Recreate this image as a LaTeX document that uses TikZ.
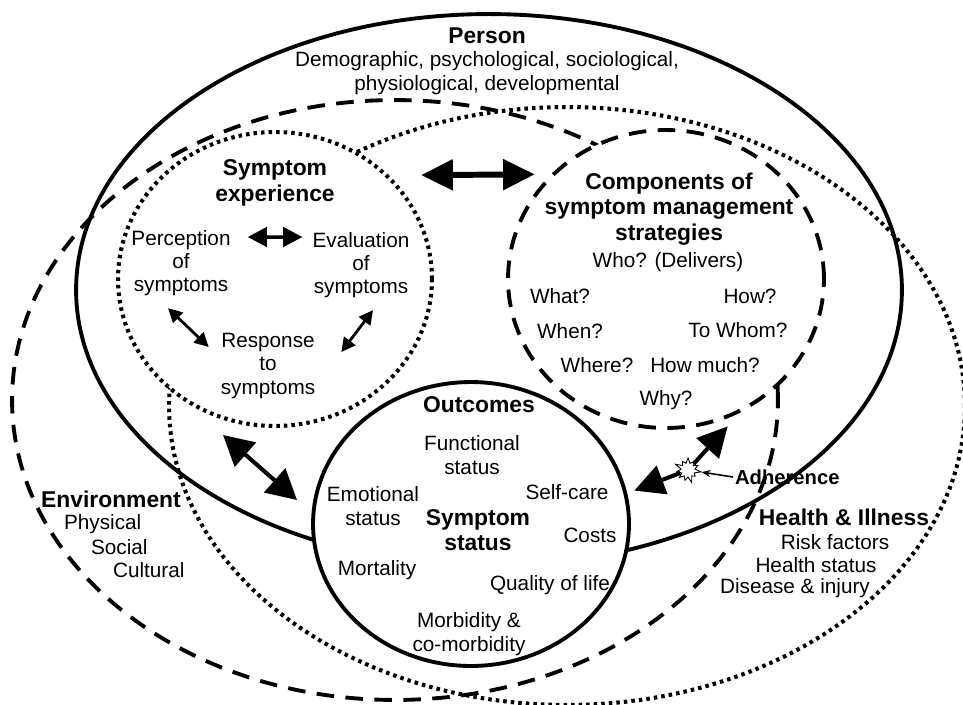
\documentclass[tikz,border=0pt]{standalone}
\usepackage{fontspec}
\setmainfont{Liberation Sans}
\usetikzlibrary{positioning}
\usetikzlibrary{arrows.meta}
\usetikzlibrary{shapes.geometric}
\usetikzlibrary{shapes.symbols}
\tikzset{
    symptom model/.style={
            x=0.02cm,y=-0.02cm,
            ring/.style={ellipse,draw,inner sep=0pt,outer sep=0pt},
            solidline/.style={line width=2.2pt},
            dashline/.style={line width=2.2pt,dash pattern=on 10pt off 6.5pt},
            dotline/.style={line width=2.3pt,dash pattern=on 2pt off 2.3pt},
            body/.style={font=\fontsize{11.8}{13.3}\selectfont,align=center,inner sep=1pt},
            title/.style={font=\bfseries\fontsize{13}{14.6}\selectfont,align=center,inner sep=1pt},
            burst/.style={starburst,draw,fill=white,line width=0.5pt,minimum size=0.56cm,
                    starburst points=11,starburst point height=0.14cm,inner sep=0pt},
            bigarrow/.style={{Triangle[length=18pt,width=17pt]}-{Triangle[length=18pt,width=17pt]},line width=3.4pt},
            diagarrow/.style={{Triangle[length=17pt,width=18pt]}-{Triangle[length=17pt,width=18pt]},line width=2.3pt},
            adharrow/.style={-{Triangle[length=17pt,width=17pt]},line width=2.3pt},
            midarrow/.style={{Triangle[length=11pt,width=11pt]}-{Triangle[length=11pt,width=11pt]},line width=2pt},
            smallarrow/.style={{Triangle[length=8pt,width=8pt]}-{Triangle[length=8pt,width=8pt]},line width=1.6pt}
        }
    }

\begin{document}
\begin{tikzpicture}[symptom model]
    \useasboundingbox (0,0) rectangle (963,704);

    % outer domains
    \node [ring, solidline, minimum width=16.52cm, minimum height=11.04cm] (person) at (489,290) {};
    \node [ring, dashline, minimum width=15.32cm, minimum height=12cm] (env) at (395,400) {};
    \node [ring, dotline, minimum width=15.92cm, minimum height=11.96cm] (health) at (567,406) {};

    % the three concepts
    \node [ring, dotline, fill=white, minimum width=6.28cm, minimum height=5.88cm] (symexp) at (275,279) {};
    \node [ring, dashline, fill=white, minimum width=6.32cm, minimum height=5.96cm] (comp) at (666,279) {};
    \node [ring, solidline, fill=white, minimum width=6.32cm, minimum height=5.68cm] (outc) at (471,524) {};

    \node [title] (persont) at (487,36) {Person};
    \node [body] (persond) at (487,73) {Demographic, psychological, sociological,\\physiological, developmental};

    \node [title] (symexpt) at (275,183) {Symptom\\experience};
    \node [body] (perc) at (181,263) {Perception\\of\\symptoms};
    \node [body] (eval) at (361,265) {Evaluation\\of\\symptoms};
    \node [body] (resp) at (268,366) {Response\\to\\symptoms};

    \node [title] (compt) at (669,209) {Components of\\symptom management\\strategies};
    \node [body] (who) at (668,262) {Who? (Delivers)};
    \node [body] (what) at (560,296) {What?};
    \node [body] (how) at (750,296) {How?};
    \node [body] (when) at (570,331) {When?};
    \node [body] (towhom) at (738,330) {To Whom?};
    \node [body] (where) at (597,365) {Where?};
    \node [body] (howmuch) at (705,365) {How much?};
    \node [body] (why) at (666,400) {Why?};

    \node [title] (outct) at (479,405) {Outcomes};
    \node [body] (func) at (472,455) {Functional\\status};
    \node [body] (emot) at (373,506) {Emotional\\status};
    \node [body] (selfc) at (567,492) {Self-care};
    \node [title] (symst) at (478,530) {Symptom\\status};
    \node [body] (costs) at (590,535) {Costs};
    \node [body] (mort) at (377,570) {Mortality};
    \node [body] (qol) at (550,585) {Quality of life};
    \node [body] (morb) at (469,634) {Morbidity \&\\co-morbidity};

    \node [title] (envt) at (111,499) {Environment};
    \node [body, anchor=west] (phys) at (62,524) {Physical};
    \node [body, anchor=west] (soc) at (89,547) {Social};
    \node [body, anchor=west] (cult) at (111,570) {Cultural};

    \node [title] (healtht) at (844,517) {Health \& Illness};
    \node [body] (risk) at (835,542) {Risk factors};
    \node [body] (hstat) at (816,565) {Health status};
    \node [body] (dis) at (795,588) {Disease \& injury};

    % adherence
    \node [burst] (burst) at (688,470) {};
    \node [title, anchor=west, font=\bfseries\fontsize{11.5}{13}\selectfont] (adh) at (733,477) {Adherence};

    \draw [bigarrow, shorten <=0.7cm, shorten >=0.38cm] (symexp.43) -- (comp.137);
    \draw [diagarrow] ([xshift=-1.04cm,yshift=-0.18cm]symexp.south) -- ([xshift=-0.32cm,yshift=0.48cm]outc.west);
    \draw [midarrow, shorten <=0.3cm, shorten >=0.16cm] ([yshift=0.52cm]perc.east) -- ([yshift=0.56cm]eval.west);
    \draw [smallarrow] ([xshift=-0.26cm,yshift=-0.2cm]perc.south) -- ([xshift=-0.2cm,yshift=0.38cm]resp.west);
    \draw [smallarrow] ([xshift=0.24cm,yshift=-0.2cm]eval.south) -- ([xshift=0.48cm,yshift=0.28cm]resp.east);

    \draw [adharrow, shorten >=0.48cm] (burst) -- (comp.-59);
    \draw [adharrow, shorten >=0.19cm] (burst) -- (outc.11);
    \draw [-{Stealth[length=5pt,width=4pt]}, line width=0.9pt] (adh.west) -- (burst);
\end{tikzpicture}
\end{document}
